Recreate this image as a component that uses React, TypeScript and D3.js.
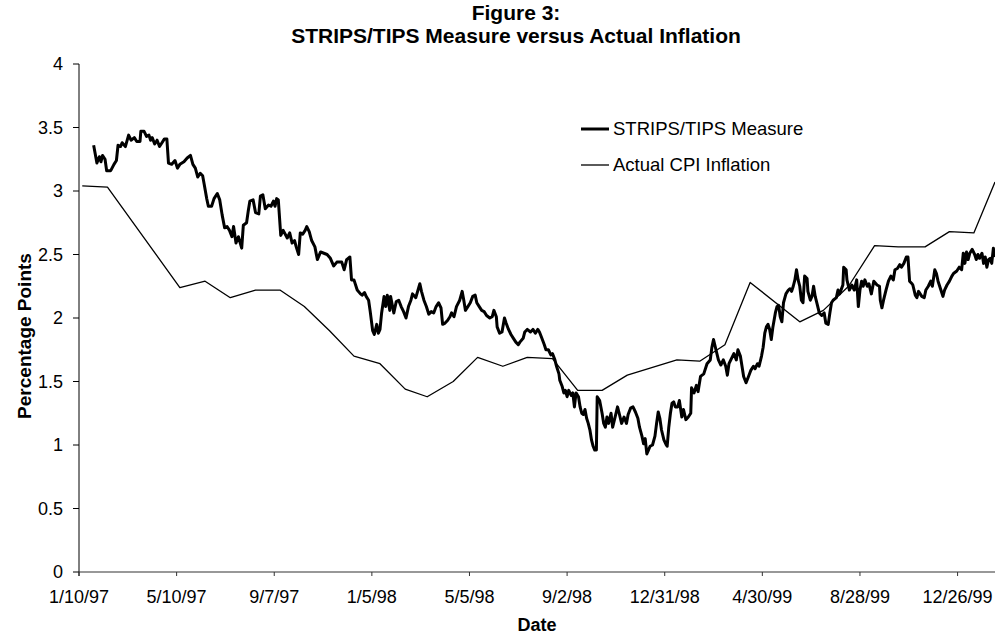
import React from "react";
import * as d3 from "d3";

// ---- data (days since 1/10/97, percentage points) ----
const START_DATE = "1/10/97";
const END_DAY = 1126;

const tickLabels = ["1/10/97", "5/10/97", "9/7/97", "1/5/98", "5/5/98", "9/2/98", "12/31/98", "4/30/99", "8/28/99", "12/26/99"];
const yTicks = [0, 0.5, 1, 1.5, 2, 2.5, 3, 3.5, 4];

const cpiDay = [4, 35, 124, 155, 186, 217, 247, 277, 308, 338, 370, 401, 428, 460, 490, 521, 551, 582, 613, 643, 674, 704, 735, 763, 794, 825, 886, 915, 946, 978, 1007, 1040, 1070, 1100, 1126];
const cpiVal = [3.04, 3.03, 2.24, 2.29, 2.16, 2.22, 2.22, 2.09, 1.90, 1.70, 1.64, 1.44, 1.38, 1.50, 1.69, 1.62, 1.69, 1.68, 1.43, 1.43, 1.55, 1.61, 1.67, 1.66, 1.79, 2.28, 1.97, 2.06, 2.25, 2.57, 2.56, 2.56, 2.68, 2.67, 3.07];

const stripsDay = [
  18, 22, 25, 27, 29, 32, 34, 39, 43, 46, 48, 51, 53, 57, 61, 64, 68, 71, 75, 76, 80, 83, 86, 88, 90, 93, 96, 99, 102, 105, 108, 110, 114, 118, 121, 124, 129, 133, 137, 140,
  143, 146, 149, 152, 154, 157, 159, 163, 166, 170, 173, 176, 179, 182, 185, 188, 190, 193, 196, 200, 202, 206, 208, 210, 214, 217, 221, 223, 226, 229, 233, 236, 239, 241, 243, 245,
  248, 251, 256, 259, 262, 265, 267, 270, 272, 275, 278, 280, 283, 286, 290, 293, 297, 301, 305, 309, 313, 317, 323, 326, 329, 333, 335, 338, 342, 346, 348, 351, 353, 356,
  358, 361, 363, 366, 368, 370, 372, 375, 377, 379, 382, 383, 387, 390, 393, 396, 399, 402, 405, 408, 410, 414, 419, 421, 424, 427, 430, 433, 436, 439, 442, 445, 447, 450,
  453, 456, 458, 461, 464, 468, 471, 473, 475, 478, 481, 484, 487, 489, 492, 495, 498, 501, 505, 508, 510, 513, 514, 517, 520, 523, 525, 528, 531, 534, 537, 540, 542, 546,
  548, 551, 555, 558, 561, 564, 566, 569, 572, 574, 577, 580, 582, 585, 587, 590, 591, 594, 596, 598, 600, 602, 605, 607, 609, 611, 614, 616, 618, 620, 622, 624, 626, 628,
  630, 632, 634, 636, 637, 640, 643, 645, 647, 649, 651, 654, 656, 659, 662, 664, 667, 670, 673, 675, 678, 681, 684, 687, 689, 692, 694, 696, 698, 700, 702, 705, 708, 710,
  712, 714, 716, 719, 722, 723, 725, 727, 729, 731, 733, 736, 738, 741, 743, 746, 749, 752, 753, 756, 759, 761, 764, 768, 772, 776, 778, 780, 783, 786, 789, 792, 795, 797,
  799, 802, 805, 808, 810, 813, 815, 817, 820, 823, 826, 829, 831, 834, 836, 839, 841, 843, 845, 847, 849, 851, 853, 856, 858, 860, 862, 864, 866, 869, 872, 874, 876, 878,
  880, 882, 884, 886, 888, 890, 892, 895, 896, 899, 901, 903, 905, 907, 910, 913, 916, 918, 921, 923, 925, 927, 931, 933, 935, 939, 940, 943, 944, 947, 950, 953, 956, 958,
  960, 962, 964, 966, 969, 971, 974, 977, 981, 984, 985, 987, 989, 992, 995, 998, 1001, 1003, 1006, 1009, 1011, 1014, 1017, 1019, 1021, 1024, 1025, 1028, 1030, 1032, 1034,
  1036, 1039, 1041, 1044, 1047, 1049, 1052, 1054, 1056, 1058, 1060, 1062, 1064, 1067, 1070, 1073, 1075, 1079, 1082, 1085, 1087, 1089, 1091, 1093, 1095, 1098, 1101, 1103,
  1105, 1107, 1110, 1112, 1114, 1116, 1118, 1120, 1122, 1124, 1126
];
const stripsVal = [
  3.36, 3.22, 3.27, 3.23, 3.28, 3.25, 3.16, 3.16, 3.21, 3.24, 3.36, 3.35, 3.38, 3.35, 3.44, 3.40, 3.42, 3.39, 3.39, 3.47, 3.47, 3.43, 3.44, 3.40, 3.42, 3.37, 3.40, 3.35, 3.38, 3.41, 3.41, 3.22, 3.21, 3.24, 3.18, 3.21, 3.23, 3.26, 3.28, 3.21,
  3.18, 3.11, 3.14, 3.12, 3.05, 2.94, 2.88, 2.88, 2.94, 2.98, 2.93, 2.81, 2.71, 2.72, 2.69, 2.64, 2.72, 2.59, 2.64, 2.55, 2.73, 2.75, 2.84, 2.92, 2.93, 2.83, 2.82, 2.96, 2.97, 2.86, 2.89, 2.88, 2.92, 2.88, 2.94, 2.93,
  2.65, 2.69, 2.63, 2.67, 2.59, 2.61, 2.56, 2.50, 2.67, 2.66, 2.69, 2.72, 2.68, 2.61, 2.56, 2.46, 2.52, 2.51, 2.50, 2.47, 2.41, 2.44, 2.44, 2.38, 2.46, 2.48, 2.30, 2.30, 2.22, 2.19, 2.18, 2.20, 2.17, 2.14,
  2.05, 1.90, 1.87, 1.95, 1.88, 1.91, 2.04, 2.17, 2.09, 2.18, 2.06, 2.17, 2.04, 2.13, 2.14, 2.09, 2.05, 2.00, 2.09, 2.14, 2.19, 2.16, 2.27, 2.21, 2.14, 2.09, 2.03, 2.05, 2.04, 2.09, 2.12, 2.08, 1.95, 1.96,
  1.98, 2.01, 2.04, 2.01, 2.09, 2.14, 2.21, 2.14, 2.06, 2.09, 2.12, 2.17, 2.18, 2.12, 2.09, 2.06, 2.05, 2.02, 2.00, 2.01, 2.06, 2.01, 1.93, 1.88, 1.89, 2.00, 1.96, 1.91, 1.87, 1.84, 1.81, 1.79, 1.81, 1.84,
  1.89, 1.91, 1.89, 1.91, 1.88, 1.91, 1.89, 1.84, 1.79, 1.75, 1.75, 1.71, 1.72, 1.67, 1.62, 1.56, 1.51, 1.46, 1.41, 1.43, 1.38, 1.43, 1.39, 1.41, 1.30, 1.41, 1.38, 1.30, 1.25, 1.24, 1.28, 1.21, 1.17, 1.12,
  1.04, 0.99, 0.96, 0.96, 1.38, 1.35, 1.25, 1.17, 1.14, 1.22, 1.17, 1.25, 1.14, 1.22, 1.30, 1.25, 1.17, 1.22, 1.17, 1.24, 1.29, 1.30, 1.26, 1.21, 1.14, 1.07, 1.01, 1.05, 0.93, 0.96, 0.99, 1.00, 1.07, 1.17,
  1.26, 1.21, 1.12, 1.04, 1.00, 0.99, 1.14, 1.25, 1.33, 1.34, 1.30, 1.30, 1.35, 1.22, 1.28, 1.20, 1.22, 1.25, 1.45, 1.41, 1.47, 1.42, 1.54, 1.56, 1.64, 1.67, 1.77, 1.83, 1.75, 1.67, 1.63, 1.67, 1.62, 1.55,
  1.64, 1.68, 1.72, 1.67, 1.75, 1.70, 1.62, 1.54, 1.49, 1.54, 1.59, 1.62, 1.60, 1.64, 1.62, 1.70, 1.77, 1.88, 1.93, 1.95, 1.91, 1.83, 1.93, 2.04, 2.09, 2.10, 2.01, 1.97, 2.12, 2.19, 2.22, 2.23, 2.21, 2.25,
  2.30, 2.38, 2.30, 2.25, 2.14, 2.12, 2.33, 2.31, 2.21, 2.14, 2.17, 2.25, 2.17, 2.12, 2.04, 2.02, 2.04, 1.96, 1.95, 2.04, 2.12, 2.14, 2.16, 2.22, 2.19, 2.26, 2.40, 2.38, 2.30, 2.22, 2.26, 2.22, 2.30, 2.09,
  2.22, 2.29, 2.25, 2.30, 2.25, 2.27, 2.19, 2.29, 2.26, 2.25, 2.14, 2.08, 2.14, 2.22, 2.29, 2.33, 2.30, 2.38, 2.39, 2.42, 2.40, 2.43, 2.48, 2.48, 2.29, 2.27, 2.26, 2.18, 2.16, 2.21, 2.19,
  2.17, 2.16, 2.22, 2.25, 2.29, 2.25, 2.38, 2.35, 2.29, 2.25, 2.21, 2.17, 2.22, 2.26, 2.29, 2.33, 2.35, 2.37, 2.40, 2.38, 2.51, 2.43, 2.52, 2.46, 2.51, 2.54, 2.50, 2.46,
  2.50, 2.47, 2.51, 2.43, 2.48, 2.40, 2.46, 2.47, 2.43, 2.55, 2.48
];

const seriesNames = ["STRIPS/TIPS Measure", "Actual CPI Inflation"];
const titleLines = ["Figure 3:", "STRIPS/TIPS Measure versus Actual Inflation"];
const xTitle = "Date";
const yTitle = "Percentage Points";

// ---- layout ----
const W = 995;
const H = 634;
const M = { left: 79, right: 995, top: 64, bottom: 572 };
const FONT = "'Liberation Sans', Arial, Helvetica, sans-serif";

export default function App() {
  const parse = d3.timeParse("%m/%d/%y");
  const start = parse(START_DATE) as Date;
  const x = d3.scaleTime().domain([start, d3.timeDay.offset(start, END_DAY)]).range([M.left, M.right]);
  const y = d3.scaleLinear().domain([0, 4]).range([M.bottom, M.top]);

  const strips = stripsDay.map((d, i) => ({ date: d3.timeDay.offset(start, d), v: stripsVal[i] }));
  const cpi = cpiDay.map((d, i) => ({ date: d3.timeDay.offset(start, d), v: cpiVal[i] }));

  const line = d3
    .line<{ date: Date; v: number }>()
    .x((d) => x(d.date))
    .y((d) => y(d.v));

  const xTicks = tickLabels.map((l) => ({ label: l, date: parse(l) as Date }));

  return (
    <svg width={W} height={H} style={{ position: "absolute", left: 0, top: 0, background: "#fff" }} fontFamily={FONT}>
      <defs>
        <clipPath id="plotclip">
          <rect x={M.left} y={M.top - 5} width={M.right - M.left} height={M.bottom - M.top + 5} />
        </clipPath>
      </defs>
      {/* title */}
      {titleLines.map((t, i) => (
        <text key={t} x={516} y={20 + i * 23} textAnchor="middle" fontSize={21} fontWeight="bold" fill="#000">
          {t}
        </text>
      ))}
      {/* y axis */}
      <line x1={M.left} x2={M.left} y1={M.top} y2={M.bottom + 4} stroke="#000" strokeWidth={1} />
      {yTicks.map((t) => (
        <g key={t}>
          <line x1={M.left - 6} x2={M.left} y1={y(t)} y2={y(t)} stroke="#000" strokeWidth={1} />
          <text x={M.left - 16} y={y(t)} dy="0.35em" textAnchor="end" fontSize={18} fill="#000">
            {String(t)}
          </text>
        </g>
      ))}
      {/* x axis */}
      <line x1={M.left} x2={M.right} y1={M.bottom} y2={M.bottom} stroke="#333" strokeWidth={1.2} />
      {xTicks.map((t) => (
        <g key={t.label}>
          <line x1={x(t.date)} x2={x(t.date)} y1={M.bottom} y2={M.bottom + 4} stroke="#333" strokeWidth={1} />
          <text x={x(t.date)} y={603} textAnchor="middle" fontSize={18} fill="#000">
            {t.label}
          </text>
        </g>
      ))}
      <text x={537} y={631} textAnchor="middle" fontSize={18} fontWeight="bold" fill="#000">
        {xTitle}
      </text>
      <text transform={`translate(24,336) rotate(-90)`} textAnchor="middle" dy="0.35em" fontSize={19} fontWeight="bold" fill="#000">
        {yTitle}
      </text>
      {/* series */}
      <g clipPath="url(#plotclip)">
        <path d={line(cpi) || ""} fill="none" stroke="#000" strokeWidth={1.3} strokeLinejoin="round" />
        <path d={line(strips) || ""} fill="none" stroke="#000" strokeWidth={3} strokeLinejoin="round" />
      </g>
      {/* legend */}
      <g>
        <line x1={581} x2={609} y1={129} y2={129} stroke="#000" strokeWidth={3} />
        <text x={613} y={129} dy="0.35em" fontSize={18.5} fill="#000">
          {seriesNames[0]}
        </text>
        <line x1={581} x2={609} y1={165} y2={165} stroke="#000" strokeWidth={1.3} />
        <text x={613} y={165} dy="0.35em" fontSize={18.5} fill="#000">
          {seriesNames[1]}
        </text>
      </g>
    </svg>
  );
}
